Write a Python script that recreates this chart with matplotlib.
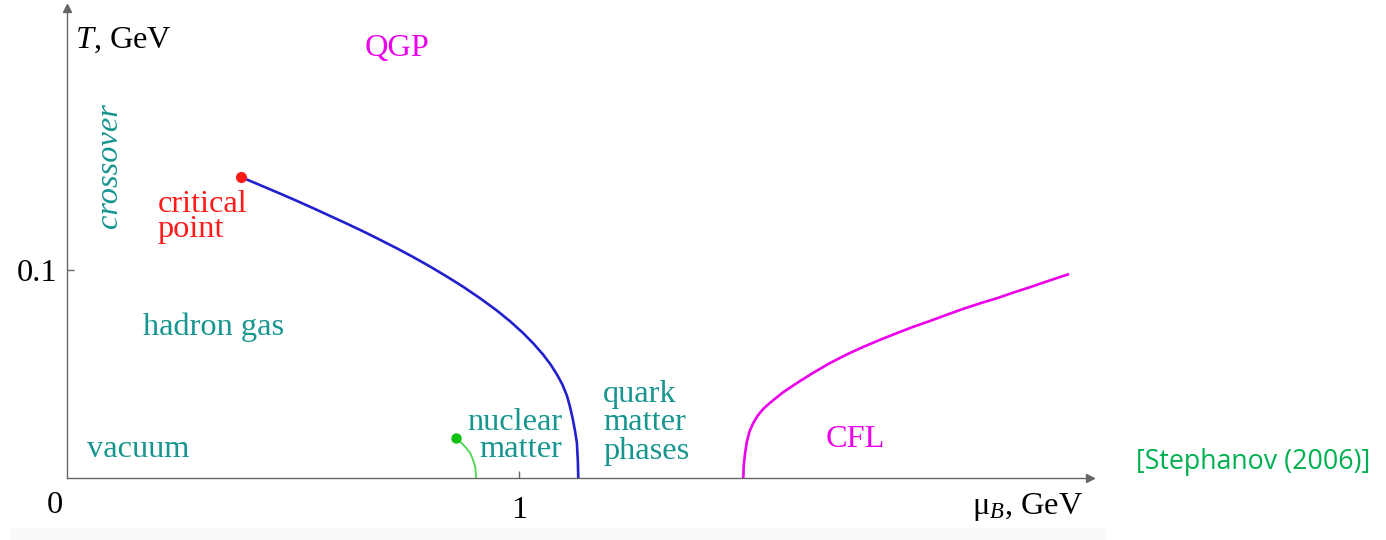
import matplotlib
matplotlib.use("Agg")
import matplotlib.pyplot as plt
from matplotlib.patches import Rectangle

# Phase boundaries of QCD in the (mu_B, T) plane, GeV
crossover_end_mu = [0.385, 0.409, 0.434, 0.471, 0.509, 0.546, 0.582, 0.619, 0.655,
                    0.692, 0.730, 0.767, 0.803, 0.840, 0.876, 0.914, 0.951, 0.981,
                    1.009, 1.032, 1.053, 1.070, 1.084, 1.096, 1.106, 1.113, 1.119,
                    1.124, 1.128, 1.130, 1.131]
crossover_end_T = [0.1447, 0.1425, 0.1402, 0.1368, 0.1332, 0.1296, 0.1260, 0.1223, 0.1186,
                   0.1146, 0.1104, 0.1061, 0.1017, 0.0969, 0.0920, 0.0864, 0.0805, 0.0752,
                   0.0697, 0.0646, 0.0594, 0.0545, 0.0497, 0.0449, 0.0395, 0.0340, 0.0282,
                   0.0224, 0.0168, 0.0085, 0.0]

nuclear_mu = [0.861, 0.872, 0.882, 0.892, 0.898, 0.903, 0.905]
nuclear_T = [0.0192, 0.0170, 0.0147, 0.0120, 0.0088, 0.0053, 0.0]

cfl_mu = [1.496, 1.497, 1.500, 1.504, 1.510, 1.518, 1.528, 1.540, 1.555, 1.584,
          1.615, 1.650, 1.688, 1.724, 1.761, 1.798, 1.836, 1.872, 1.909, 1.945,
          1.982, 2.020, 2.058, 2.094, 2.131, 2.174, 2.217]
cfl_T = [0.0, 0.0060, 0.0120, 0.0175, 0.0225, 0.0264, 0.0300, 0.0332, 0.0361, 0.0412,
         0.0457, 0.0505, 0.0553, 0.0593, 0.0630, 0.0664, 0.0697, 0.0727, 0.0755, 0.0784,
         0.0813, 0.0840, 0.0865, 0.0892, 0.0918, 0.0950, 0.0981]

critical_point = (0.385, 0.1447)
nuclear_point = (0.861, 0.0192)

x_ticks = [1]
x_tick_labels = ["1"]
y_ticks = [0.1]
y_tick_labels = ["0.1"]

TEAL = "#17958f"
RED = "#ff1a1a"
MAGENTA = "#ec00ec"
BLUE = "#2020cc"
AXIS = "#666666"

plt.rcParams["font.family"] = ["Liberation Serif", "DejaVu Serif"]
plt.rcParams["mathtext.fontset"] = "custom"
plt.rcParams["mathtext.rm"] = "Liberation Serif"
plt.rcParams["mathtext.it"] = "Liberation Serif:italic"
plt.rcParams["mathtext.bf"] = "Liberation Serif:bold"

FS = 23.3

fig = plt.figure(figsize=(13.86, 5.40), dpi=100)
fig.patch.set_facecolor("white")
fig.patches.append(Rectangle((9 / 1386, 0), (1105 - 9) / 1386, 12 / 540,
                             transform=fig.transFigure, facecolor="#fafafa",
                             edgecolor="none", zorder=0))

ax = fig.add_axes([67 / 1386, 62 / 540, (1090 - 67) / 1386, 470 / 540])
ax.set_xlim(0, 2.263)
ax.set_ylim(0, 0.226)
ax.patch.set_alpha(0)

for side in ("top", "right"):
    ax.spines[side].set_visible(False)
for side in ("left", "bottom"):
    ax.spines[side].set_color(AXIS)
    ax.spines[side].set_linewidth(1.0)

# arrow heads on the axes
ax.plot(1, 0, ">", color=AXIS, markersize=6, transform=ax.get_yaxis_transform(), clip_on=False)
ax.plot(0, 1, "^", color=AXIS, markersize=6, transform=ax.get_xaxis_transform(), clip_on=False)

ax.set_xticks(x_ticks)
ax.set_xticklabels(x_tick_labels)
ax.set_yticks(y_ticks)
ax.set_yticklabels(y_tick_labels)
ax.tick_params(axis="x", direction="in", length=5, width=1, color=AXIS, labelsize=FS, pad=13)
ax.tick_params(axis="y", direction="in", length=5, width=1, color=AXIS, labelsize=FS, pad=7)

ax.text(-0.0265, -0.013, "0", fontsize=FS, ha="center", va="center", clip_on=False)
ax.text(0.0177, 0.2106, "$T$, GeV", fontsize=FS, ha="left", va="center", clip_on=False)
ax.text(2.002, -0.0139, r"$\mathrm{\mu}_{B}$, GeV", fontsize=FS, ha="left", va="center", clip_on=False)

# phase boundaries
ax.plot(crossover_end_mu, crossover_end_T, color=BLUE, lw=1.9, solid_capstyle="butt",
        solid_joinstyle="round", zorder=3)
ax.plot(nuclear_mu, nuclear_T, color="#4cd44c", lw=1.3, solid_joinstyle="round", zorder=3)
ax.plot(cfl_mu, cfl_T, color=MAGENTA, lw=1.9, solid_capstyle="butt",
        solid_joinstyle="round", zorder=3)
ax.plot(*critical_point, "o", color=RED, markersize=7, zorder=4, clip_on=False)
ax.plot(*nuclear_point, "o", color="#10c010", markersize=6.5, zorder=4)

# region labels
ax.text(0.730, 0.2067, "QGP", color=MAGENTA, fontsize=FS, ha="center", va="center")
ax.text(0.095, 0.150, "crossover", color=TEAL, fontsize=FS, style="italic",
        rotation=90, ha="center", va="center")
ax.text(0.201, 0.1255, "critical\npoint", color=RED, fontsize=FS, ha="left",
        va="center", linespacing=0.8)
ax.text(0.168, 0.0726, "hadron gas", color=TEAL, fontsize=FS, ha="left", va="center")
ax.text(0.044, 0.0139, "vacuum", color=TEAL, fontsize=FS, ha="left", va="center")
ax.text(1.095, 0.0202, "nuclear\nmatter", color=TEAL, fontsize=FS, ha="right",
        va="center", multialignment="right", linespacing=0.93)
ax.text(1.186, 0.0265, "quark\nmatter\nphases", color=TEAL, fontsize=FS, ha="left",
        va="center", linespacing=0.98)
ax.text(1.743, 0.01875, "CFL", color=MAGENTA, fontsize=FS, ha="center", va="center")

fig.text(1136 / 1386, 1 - 462 / 540, "[Stephanov (2006)]", color="#00b050",
         fontsize=19.3, family=["Open Sans", "DejaVu Sans"], ha="left", va="center")

fig.savefig("out.png", dpi=100)
